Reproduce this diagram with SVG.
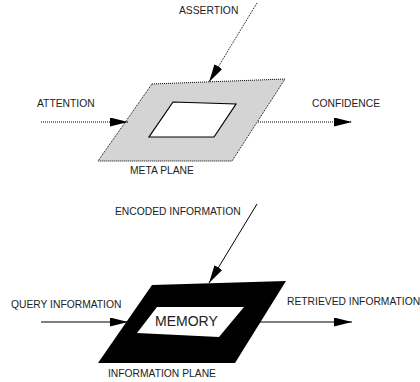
<svg xmlns="http://www.w3.org/2000/svg" width="420" height="382" viewBox="0 0 420 382">
<style>
text{font-family:"Liberation Sans",Arial,sans-serif;font-size:10.3px;fill:#222}
.dot{stroke:#000;stroke-width:1;stroke-dasharray:1 1;fill:none}
.sol{stroke:#000;stroke-width:1;fill:none}
</style>
<defs>
<marker id="ah" markerUnits="userSpaceOnUse" markerWidth="18" markerHeight="10" refX="18" refY="4.5" orient="auto">
<path d="M0,0 L18,4.5 L0,9 z" fill="#000"/>
</marker>
</defs>
<rect width="420" height="382" fill="#fff"/>
<g id="meta-plane">
<path d="M152,84 L285,79 L232,161 L98,161 Z" fill="#d4d4d4" class="dot" style="fill:#d4d4d4"/>
<path d="M173,102 L236,104 L214,137 L149,137 Z" fill="#fff" stroke="#000" stroke-width="1.2"/>
<text x="130" y="174">META PLANE</text>
</g>
<g id="information-plane">
<path d="M152,285 L286,281 L235,363 L98,363 Z" fill="#000"/>
<path d="M157,307 L244,307 L219,337 L137,333 Z" fill="#fff"/>
<text x="155" y="326" style="font-size:14px">MEMORY</text>
<text x="108" y="377">INFORMATION PLANE</text>
</g>
<g id="labels">
<text x="179" y="14">ASSERTION</text>
<text x="37" y="107">ATTENTION</text>
<text x="312" y="107">CONFIDENCE</text>
<text x="115" y="215">ENCODED INFORMATION</text>
<text x="11" y="308">QUERY INFORMATION</text>
<text x="287" y="305">RETRIEVED INFORMATION</text>
</g>
<g id="connectors">
<line class="dot" x1="257" y1="3" x2="209" y2="82" marker-end="url(#ah)"/>
<line class="dot" x1="41" y1="122" x2="128" y2="122" marker-end="url(#ah)"/>
<line class="dot" x1="258" y1="122" x2="352" y2="122" marker-end="url(#ah)"/>
<line class="sol" x1="257" y1="204" x2="209" y2="283" marker-end="url(#ah)"/>
<line class="sol" x1="41" y1="322" x2="128" y2="322" marker-end="url(#ah)"/>
<line class="sol" x1="258" y1="322" x2="352" y2="322" marker-end="url(#ah)"/>
</g>
</svg>
